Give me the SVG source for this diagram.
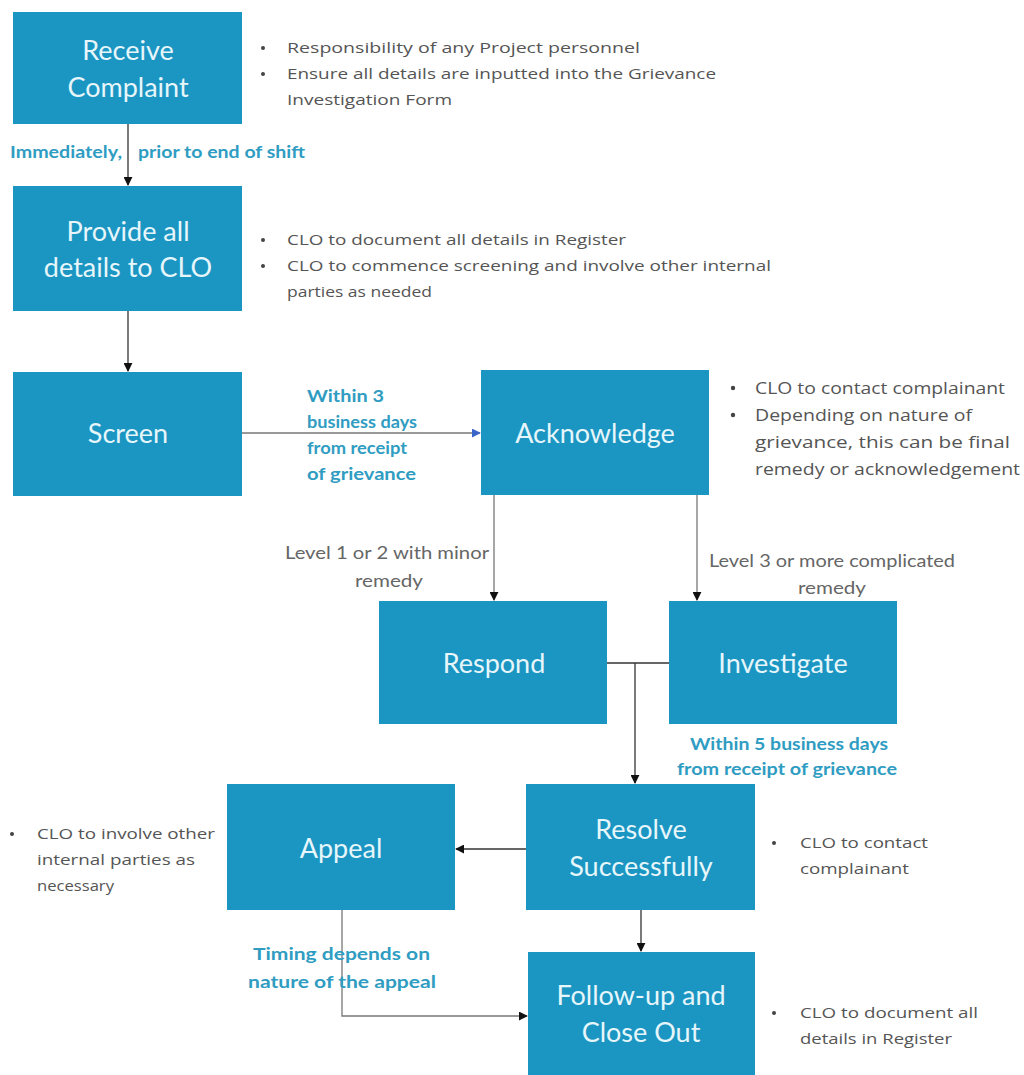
<svg xmlns="http://www.w3.org/2000/svg" width="1024" height="1075" viewBox="0 0 1024 1075">
<style>
.box{fill:#1b95c2}
.bl{font-family:Lato,"Open Sans",sans-serif;font-size:27px;fill:#e6f6fb;text-anchor:middle}
.tx{font-family:"Open Sans","Liberation Sans",sans-serif;font-size:14.5px;fill:#555}
.tb{font-family:"Open Sans","Liberation Sans",sans-serif;font-size:16.5px;fill:#555}
.gl{font-family:Lato,"Liberation Sans",sans-serif;font-size:17px;fill:#666}
.lb{font-family:Lato,"Liberation Sans",sans-serif;font-size:17px;font-weight:bold;fill:#2f9cc2}
.dot{fill:#444}
.ln{stroke:#333;stroke-width:1.3;fill:none}
.lg{stroke:#777;stroke-width:1.3;fill:none}
</style>
<defs>
<marker id="ah" viewBox="0 0 10 10" refX="9" refY="5" markerWidth="9" markerHeight="9" markerUnits="userSpaceOnUse" orient="auto"><path d="M0,0L10,5L0,10z" fill="#111"/></marker>
<marker id="ahb" viewBox="0 0 10 10" refX="9" refY="5" markerWidth="9" markerHeight="9" markerUnits="userSpaceOnUse" orient="auto"><path d="M0,0L10,5L0,10z" fill="#3a64c8"/></marker>
</defs>
<rect width="1024" height="1075" fill="#fff"/>

<g id="connectors">
<path class="ln" d="M128,124V185" marker-end="url(#ah)"/>
<path class="ln" d="M128,311V371" marker-end="url(#ah)"/>
<path class="lg" d="M242,433H480" marker-end="url(#ahb)"/>
<path class="lg" d="M494,495V600" marker-end="url(#ah)"/>
<path class="lg" d="M697,495V600" marker-end="url(#ah)"/>
<path class="ln" d="M607,663H669"/>
<path class="ln" d="M635,663V783" marker-end="url(#ah)"/>
<path class="ln" d="M526,849H456" marker-end="url(#ah)"/>
<path class="ln" d="M641,910V951" marker-end="url(#ah)"/>
<path class="lg" d="M342,910V1016H527" marker-end="url(#ah)"/>
</g>

<g id="label-immediately" class="lb">
<text x="10" y="158" textLength="112" lengthAdjust="spacingAndGlyphs">Immediately,</text>
<text x="138" y="158" textLength="167" lengthAdjust="spacingAndGlyphs">prior to end of shift</text>
</g>
<g id="label-within3" class="lb">
<text x="307" y="402" textLength="77" lengthAdjust="spacingAndGlyphs">Within 3</text>
<text x="307" y="428" textLength="110" lengthAdjust="spacingAndGlyphs">business days</text>
<text x="307" y="454" textLength="100" lengthAdjust="spacingAndGlyphs">from receipt</text>
<text x="307" y="480" textLength="109" lengthAdjust="spacingAndGlyphs">of grievance</text>
</g>
<g id="label-level12" class="gl">
<text x="285" y="559" textLength="204" lengthAdjust="spacingAndGlyphs">Level 1 or 2 with minor</text>
<text x="355" y="587" textLength="68" lengthAdjust="spacingAndGlyphs">remedy</text>
</g>
<g id="label-level3" class="gl">
<text x="709" y="567" textLength="246" lengthAdjust="spacingAndGlyphs">Level 3 or more complicated</text>
<text x="798" y="594" textLength="68" lengthAdjust="spacingAndGlyphs">remedy</text>
</g>
<g id="label-within5" class="lb">
<text x="690" y="750" textLength="198" lengthAdjust="spacingAndGlyphs">Within 5 business days</text>
<text x="677" y="775" textLength="220" lengthAdjust="spacingAndGlyphs">from receipt of grievance</text>
</g>
<g id="label-timing" class="lb">
<text x="253" y="960" textLength="177" lengthAdjust="spacingAndGlyphs">Timing depends on</text>
<text x="248" y="988" textLength="188" lengthAdjust="spacingAndGlyphs">nature of the appeal</text>
</g>

<g id="receive">
<rect class="box" x="13" y="12" width="229" height="112"/>
<text class="bl" x="128" y="60">Receive</text>
<text class="bl" x="128" y="97">Complaint</text>
</g>
<g id="receive-notes" class="tx">
<circle class="dot" cx="263" cy="48" r="2"/>
<text x="287" y="53" textLength="353" lengthAdjust="spacingAndGlyphs">Responsibility of any Project personnel</text>
<circle class="dot" cx="263" cy="74" r="2"/>
<text x="287" y="79" textLength="429" lengthAdjust="spacingAndGlyphs">Ensure all details are inputted into the Grievance</text>
<text x="287" y="105" textLength="165" lengthAdjust="spacingAndGlyphs">Investigation Form</text>
</g>

<g id="provide">
<rect class="box" x="13" y="186" width="229" height="125"/>
<text class="bl" x="128" y="241">Provide all</text>
<text class="bl" x="128" y="277">details to CLO</text>
</g>
<g id="provide-notes" class="tx">
<circle class="dot" cx="263" cy="240" r="2"/>
<text x="287" y="245" textLength="339" lengthAdjust="spacingAndGlyphs">CLO to document all details in Register</text>
<circle class="dot" cx="263" cy="266" r="2"/>
<text x="287" y="271" textLength="484" lengthAdjust="spacingAndGlyphs">CLO to commence screening and involve other internal</text>
<text x="287" y="297" textLength="145" lengthAdjust="spacingAndGlyphs">parties as needed</text>
</g>

<g id="screen">
<rect class="box" x="13" y="372" width="229" height="124"/>
<text class="bl" x="128" y="443">Screen</text>
</g>

<g id="acknowledge">
<rect class="box" x="481" y="370" width="228" height="125"/>
<text class="bl" x="595" y="443">Acknowledge</text>
</g>
<g id="acknowledge-notes" class="tb">
<circle class="dot" cx="733" cy="388" r="2.2"/>
<text x="755" y="394" textLength="250" lengthAdjust="spacingAndGlyphs">CLO to contact complainant</text>
<circle class="dot" cx="733" cy="415" r="2.2"/>
<text x="755" y="421" textLength="217" lengthAdjust="spacingAndGlyphs">Depending on nature of</text>
<text x="755" y="448" textLength="255" lengthAdjust="spacingAndGlyphs">grievance, this can be final</text>
<text x="755" y="475" textLength="265" lengthAdjust="spacingAndGlyphs">remedy or acknowledgement</text>
</g>

<g id="respond">
<rect class="box" x="379" y="601" width="228" height="123"/>
<text class="bl" x="494" y="673">Respond</text>
</g>
<g id="investigate">
<rect class="box" x="669" y="601" width="228" height="123"/>
<text class="bl" x="783" y="673">Investigate</text>
</g>

<g id="appeal">
<rect class="box" x="227" y="784" width="228" height="126"/>
<text class="bl" x="341" y="858">Appeal</text>
</g>
<g id="appeal-notes" class="tx">
<circle class="dot" cx="12" cy="834" r="2"/>
<text x="37" y="839" textLength="178" lengthAdjust="spacingAndGlyphs">CLO to involve other</text>
<text x="37" y="865" textLength="158" lengthAdjust="spacingAndGlyphs">internal parties as</text>
<text x="37" y="891" textLength="77" lengthAdjust="spacingAndGlyphs">necessary</text>
</g>

<g id="resolve">
<rect class="box" x="526" y="784" width="229" height="126"/>
<text class="bl" x="641" y="839">Resolve</text>
<text class="bl" x="641" y="876">Successfully</text>
</g>
<g id="resolve-notes" class="tx">
<circle class="dot" cx="774" cy="843" r="2"/>
<text x="800" y="848" textLength="128" lengthAdjust="spacingAndGlyphs">CLO to contact</text>
<text x="800" y="874" textLength="109" lengthAdjust="spacingAndGlyphs">complainant</text>
</g>

<g id="followup">
<rect class="box" x="528" y="952" width="227" height="123"/>
<text class="bl" x="641" y="1005">Follow-up and</text>
<text class="bl" x="641" y="1042">Close Out</text>
</g>
<g id="followup-notes" class="tx">
<circle class="dot" cx="774" cy="1013" r="2"/>
<text x="800" y="1018" textLength="178" lengthAdjust="spacingAndGlyphs">CLO to document all</text>
<text x="800" y="1044" textLength="152" lengthAdjust="spacingAndGlyphs">details in Register</text>
</g>
</svg>
